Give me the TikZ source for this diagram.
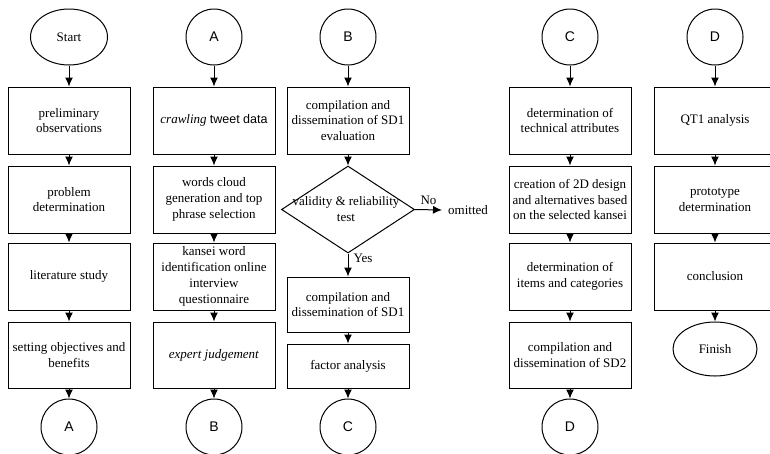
\documentclass[tikz,border=0pt]{standalone}
\usepackage{fontspec}
\setmainfont{Liberation Serif}
\setsansfont{Liberation Sans}
\usetikzlibrary{shapes.geometric,arrows.meta}
\begin{document}
\begin{tikzpicture}[x=1pt,y=-1pt,
  procbox/.style={draw, line width=1pt, minimum width=122pt, inner sep=0pt, align=center, font=\fontsize{13}{15.8}\selectfont},
  conn/.style={draw, circle, line width=1pt, minimum size=56pt, inner sep=0pt, font=\sffamily\fontsize{14}{16}\selectfont},
  term/.style={draw, ellipse, line width=1pt, inner sep=0pt, font=\fontsize{13}{15.8}\selectfont},
  decis/.style={draw, diamond, line width=1pt, inner sep=0pt, minimum width=133pt, minimum height=87pt},
  arr/.style={line width=1pt, -{Latex[length=9pt,width=8pt]}},
  lbl/.style={font=\fontsize{13}{15.8}\selectfont, inner sep=0pt, align=center}]
\useasboundingbox (0,0) rectangle (770,453);
\clip (0,0) rectangle (770,453);

% column 1
\node[term, minimum width=77pt, minimum height=56pt] (start) at (69,37) {Start};
\node[procbox, minimum height=67pt] (p1) at (69,120.5) {preliminary\\observations};
\node[procbox, minimum height=67pt] (p2) at (69,199.5) {problem\\determination};
\node[procbox, minimum height=67pt] (p3) at (69,276.5) {literature study};
\node[procbox, minimum height=66pt] (p4) at (69,355) {setting objectives and\\benefits};
\node[conn] (aout) at (69,427) {A};
\draw[arr] (start) -- (p1);
\draw[arr] (p1) -- (p2);
\draw[arr] (p2) -- (p3);
\draw[arr] (p3) -- (p4);
\draw[arr] (p4) -- (aout);

% column 2
\node[conn] (ain) at (214,37) {A};
\node[procbox, minimum height=67pt] (q1) at (214,120.5) {\textit{crawling} {\sffamily\fontsize{12.5}{15.5}\selectfont tweet data}};
\node[procbox, minimum height=67pt] (q2) at (214,199.5) {words cloud\\generation and top\\phrase selection};
\node[procbox, minimum height=67pt] (q3) at (214,276.5) {kansei word\\identification online\\interview\\questionnaire};
\node[procbox, minimum height=66pt] (q4) at (214,355) {\textit{expert judgement}};
\node[conn] (bout) at (214,427) {B};
\draw[arr] (ain) -- (q1);
\draw[arr] (q1) -- (q2);
\draw[arr] (q2) -- (q3);
\draw[arr] (q3) -- (q4);
\draw[arr] (q4) -- (bout);

% column 3
\node[conn] (bin) at (348,37) {B};
\node[procbox, minimum height=67pt] (r1) at (348,120.5) {compilation and\\dissemination of SD1\\evaluation};
\node[decis] (dia) at (348,209.5) {};
\node[lbl] (diatext) at (346,209) {validity \& reliability\\test};
\node[procbox, minimum height=55pt] (r2) at (348,304.5) {compilation and\\dissemination of SD1};
\node[procbox, minimum height=44pt] (r3) at (348,366) {factor analysis};
\node[conn] (cout) at (348,427) {C};
\node[lbl, anchor=west, inner xsep=6pt] (omit) at (442,210) {omitted};
\draw[arr] (bin) -- (r1);
\draw[arr] (r1) -- (dia);
\draw[arr] (dia.east) -- node[lbl, above=5pt] (nolbl) {No} (omit.west);
\draw[arr] (dia.south) -- node[lbl, pos=0.2, right=5pt] (yeslbl) {Yes} (r2);
\draw[arr] (r2) -- (r3);
\draw[arr] (r3) -- (cout);

% column 4
\node[conn] (cin) at (570,37) {C};
\node[procbox, minimum height=67pt] (s1) at (570,120.5) {determination of\\technical attributes};
\node[procbox, minimum height=67pt] (s2) at (570,199.5) {creation of 2D design\\and alternatives based\\on the selected kansei};
\node[procbox, minimum height=67pt] (s3) at (570,276.5) {determination of\\items and categories};
\node[procbox, minimum height=66pt] (s4) at (570,355) {compilation and\\dissemination of SD2};
\node[conn] (dout) at (570,427) {D};
\draw[arr] (cin) -- (s1);
\draw[arr] (s1) -- (s2);
\draw[arr] (s2) -- (s3);
\draw[arr] (s3) -- (s4);
\draw[arr] (s4) -- (dout);

% column 5
\node[conn] (din) at (715,37) {D};
\node[procbox, minimum height=67pt] (t1) at (715,120.5) {QT1 analysis};
\node[procbox, minimum height=67pt] (t2) at (715,199.5) {prototype\\determination};
\node[procbox, minimum height=67pt] (t3) at (715,276.5) {conclusion};
\node[term, minimum width=84pt, minimum height=54pt] (finish) at (715,349) {Finish};
\draw[arr] (din) -- (t1);
\draw[arr] (t1) -- (t2);
\draw[arr] (t2) -- (t3);
\draw[arr] (t3) -- (finish);
\end{tikzpicture}
\end{document}
